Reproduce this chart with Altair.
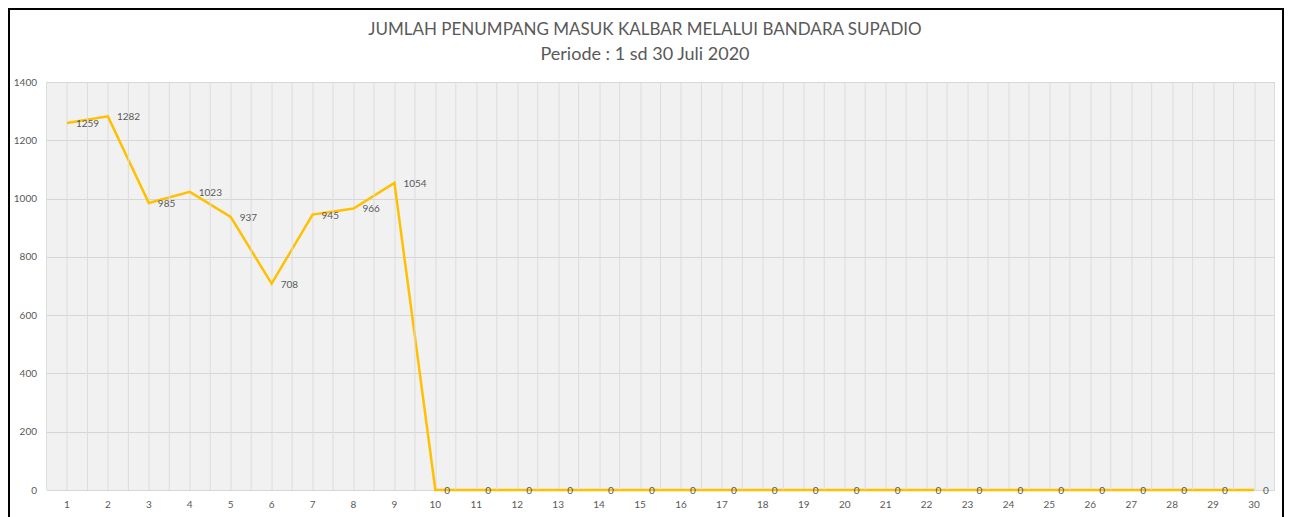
import altair as alt
import pandas as pd

days = list(range(1, 31))
passengers = [1259, 1282, 985, 1023, 937, 708, 945, 966, 1054] + [0] * 21
y_ticks = [0, 200, 400, 600, 800, 1000, 1200, 1400]
title_line1 = "JUMLAH PENUMPANG MASUK KALBAR MELALUI BANDARA SUPADIO"
title_line2 = "Periode : 1 sd 30 Juli 2020"

df = pd.DataFrame({"day": days, "value": passengers})
df["label"] = df["value"].astype(str)
df["daylabel"] = df["day"].astype(str)
bounds = pd.DataFrame({"b": [d + 0.5 for d in [0] + days]})

FONT = "Lato"
TXT = "#595959"

x_scale = alt.Scale(domain=[0.5, 30.5], nice=False, zero=False)
x_enc = alt.X("day:Q", scale=x_scale,
              axis=alt.Axis(values=days, title=None, ticks=False, domain=False,
                            labels=False, grid=True, gridColor="#dcdcdc"))
y_enc = alt.Y("value:Q",
              scale=alt.Scale(domain=[0, 1400], nice=False),
              axis=alt.Axis(values=y_ticks, title=None, ticks=False, domain=False,
                            format="d",
                            labelColor=TXT, labelFont=FONT, labelFontSize=10,
                            labelPadding=10, grid=True, gridColor="#d6d6d6"))

base = alt.Chart(df)

line = base.mark_line(color="#FFC000", strokeWidth=2.5).encode(x=x_enc, y=y_enc)
vgrid = alt.Chart(bounds).mark_rule(color="#dcdcdc", strokeWidth=1).encode(
    x=alt.X("b:Q", scale=x_scale))
labels = base.mark_text(align="left", baseline="middle", dx=9, dy=1,
                        font=FONT, fontSize=10, color=TXT).encode(
    x="day:Q", y="value:Q", text="label:N")
xlabels = base.mark_text(align="center", baseline="middle",
                         font=FONT, fontSize=10, color=TXT, clip=False).encode(
    x="day:Q", y=alt.value(423), text="daylabel:N")

t1 = alt.Chart(pd.DataFrame({"t": [title_line1]})).mark_text(
    align="center", baseline="middle", font=FONT, fontSize=17, color=TXT, clip=False).encode(
    x=alt.value(598.5), y=alt.value(-52), text="t:N")
t2 = alt.Chart(pd.DataFrame({"t": [title_line2]})).mark_text(
    align="center", baseline="middle", font=FONT, fontSize=18, color=TXT, clip=False).encode(
    x=alt.value(598.5), y=alt.value(-27), text="t:N")

frame = alt.Chart(pd.DataFrame({"a": [0]})).mark_rect(
    fill=None, stroke="black", strokeWidth=2, clip=False).encode(
    x=alt.value(-37.5), x2=alt.value(1236.5), y=alt.value(-73), y2=alt.value(460))

chart = (line + vgrid + labels + xlabels + t1 + t2 + frame).properties(
    width=1228, height=408,
    padding={"left": 38.5, "top": 74, "right": 9.5, "bottom": 27},
    autosize=alt.AutoSizeParams(type="none"),
).configure(background="white").configure_view(fill="#f1f1f1", stroke=None)

chart.save("out.html", embed_options={"renderer": "svg", "actions": False})
